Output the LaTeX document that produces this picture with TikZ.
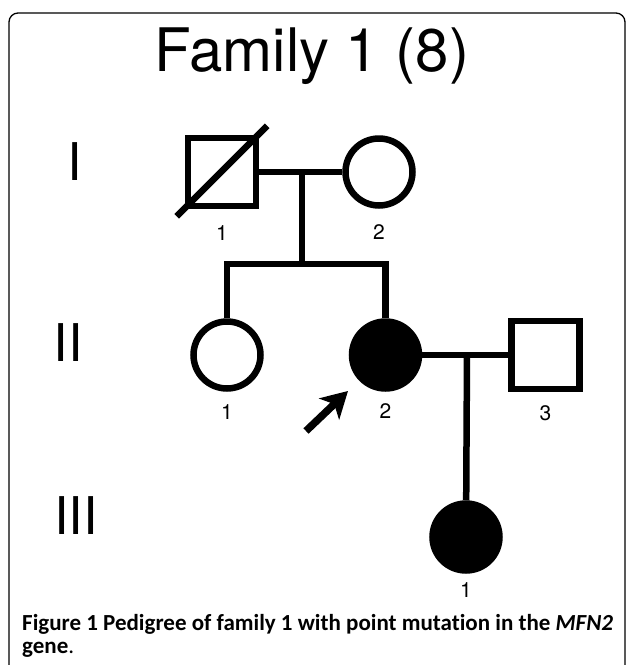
\documentclass[tikz,border=0pt]{standalone}
\usepackage{fontspec}
\usetikzlibrary{positioning}
\usetikzlibrary{arrows.meta}
\newfontfamily\pedfont{TeX Gyre Heros}
\newfontfamily\capfont[Ligatures=NoCommon]{Carlito}
\tikzstyle{male} = [rectangle,draw=black,fill=white,line width=6.5pt,minimum size=68pt,inner sep=0pt]
\tikzstyle{female} = [circle,draw=black,fill=white,line width=6.5pt,minimum size=67pt,inner sep=0pt]
\tikzstyle{affected} = [female,fill=black]
\tikzstyle{num} = [inner sep=0pt,font=\pedfont\fontsize{21}{21}\selectfont]
\tikzstyle{gen} = [inner sep=0pt,font=\pedfont\fontsize{52}{52}\selectfont]
\tikzstyle{capt} = [anchor=base west,inner sep=0pt,font=\capfont\bfseries\fontsize{23}{23}\selectfont]
\tikzstyle{panel} = [draw=black,line width=1.3pt,rounded corners=9pt]
\tikzstyle{line} = [line width=6.5pt]
\tikzset{>={Stealth[length=26pt,width=29pt,inset=7pt]}}

\begin{document}
\begin{tikzpicture}[x=1pt,y=-1pt]
  \useasboundingbox (0,0) rectangle (627,665);
  \draw [panel] (9,665) -- (9,13) -- (625,13) -- (625,665);

  \node [anchor=base,inner sep=0pt,font=\pedfont\fontsize{60}{60}\selectfont] (title) at (312,71) {Family 1 (8)};

  \node [gen] (g1) at (75,162) {I};
  \node [gen] (g2) at (68,343) {II};
  \node [gen] (g3) at (76,516) {III};

  \node [male] (i1) at (222,172) {};
  \node [female,right=83pt of i1] (i2) {};
  \node [num,below=16pt of i1] (n_i1) {1};
  \node [num,below=16pt of i2] (n_i2) {2};
  \draw [line] ([xshift=-8pt,yshift=-7pt]i1.south west) -- ([xshift=8pt,yshift=9pt]i1.north east);

  \node [female] (ii1) at (227,355) {};
  \node [affected,right=85pt of ii1] (ii2) {};
  \node [male,right=86pt of ii2] (ii3) {};
  \node [num,below=13pt of ii1] (n_ii1) {1};
  \node [num,below=12pt of ii2] (n_ii2) {2};
  \node [num,below=13pt of ii3] (n_ii3) {3};

  \node [affected] (iii1) at (466,537) {};
  \node [num,below=9pt of iii1] (n_iii1) {1};

  \coordinate (m1) at (302,172);
  \coordinate (s1) at (302,264);
  \coordinate (m2) at (467,355);

  \draw [line] (i1) -- (i2);
  \draw [line] (m1) -- (s1);
  \draw [line] (ii1) |- (s1) -| (ii2);
  \draw [line] (ii2) -- (ii3);
  \draw [line] (m2) -- (iii1);

  \coordinate (ptail) at (306,431);
  \coordinate (ptip) at (348,391);
  \draw [line,line width=7.5pt,->] (ptail) -- (ptip);

  \node [capt] (cap1) at (22,630) {Figure 1 Pedigree of family 1 with point mutation in the \textit{MFN2}};
  \node [capt] (cap2) at ([yshift=-23pt]cap1.base west) {gene\textmd{.}};
\end{tikzpicture}
\end{document}
